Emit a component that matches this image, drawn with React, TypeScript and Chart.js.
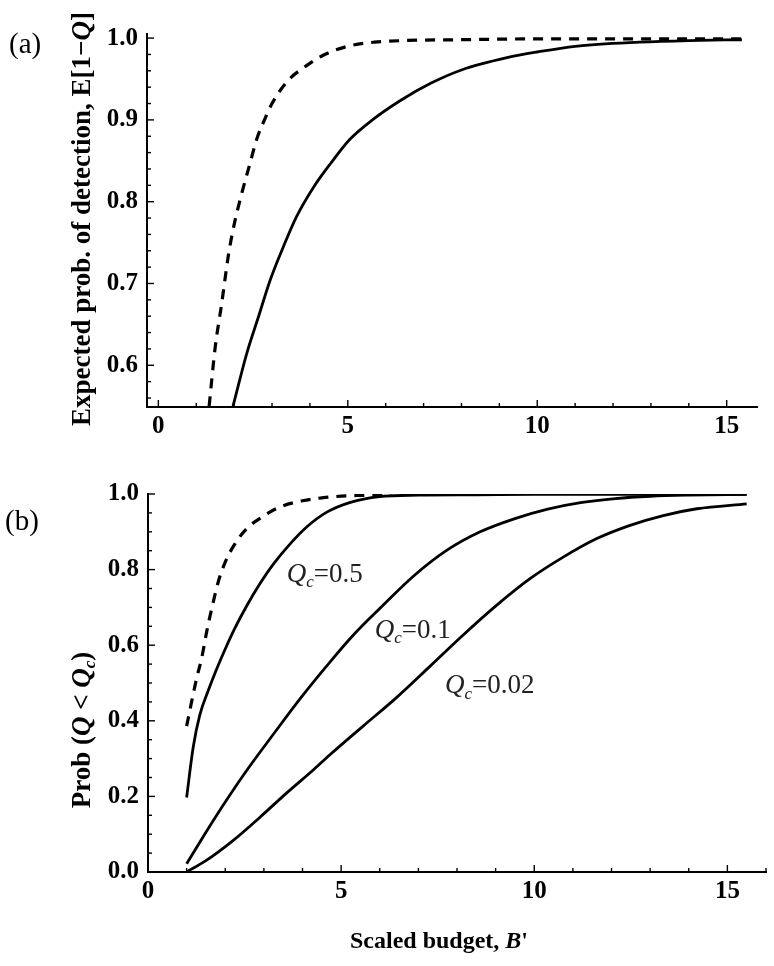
import React, { useEffect, useRef } from 'react';
import { Chart, registerables } from 'chart.js';

Chart.register(...registerables);

// ---------------- Data: panel (a) ----------------
const aDashedB = [1.34, 1.5, 1.67, 1.85, 2.0, 2.2, 2.42, 2.6, 2.8, 3.0, 3.4, 3.9, 4.35, 5.0, 5.7, 6.5, 7.9, 10.0, 12.0, 15.4];
const aDashedP = [0.55, 0.622, 0.675, 0.735, 0.772, 0.81, 0.847, 0.877, 0.9, 0.92, 0.947, 0.966, 0.979, 0.99, 0.995, 0.997, 0.998, 0.999, 0.999, 0.999];
const aSolidB = [1.97, 2.33, 2.64, 2.95, 3.3, 3.65, 4.1, 4.55, 5.05, 5.65, 6.4, 7.2, 8.0, 9.2, 10.0, 11.0, 12.7, 14.0, 15.4];
const aSolidP = [0.55, 0.614, 0.659, 0.704, 0.745, 0.782, 0.818, 0.847, 0.876, 0.9, 0.924, 0.945, 0.961, 0.976, 0.983, 0.99, 0.995, 0.997, 0.998];
const aXTicks = [0, 5, 10, 15];
const aYTicks = [0.6, 0.7, 0.8, 0.9, 1.0];

// ---------------- Data: panel (b) ----------------
const bDashedB = [1.0, 1.26, 1.39, 1.52, 1.65, 1.82, 2.0, 2.25, 2.55, 2.95, 3.4, 4.0, 4.6, 5.4, 6.3];
const bDashedP = [0.386, 0.513, 0.566, 0.636, 0.697, 0.768, 0.82, 0.868, 0.908, 0.939, 0.965, 0.982, 0.991, 0.996, 0.997];
const bQ05B = [1.0, 1.17, 1.34, 1.56, 1.77, 2.0, 2.25, 2.55, 2.9, 3.25, 3.68, 4.1, 4.63, 5.24, 6.0, 7.0, 8.5, 10.0, 12.0, 15.5];
const bQ05P = [0.197, 0.33, 0.415, 0.48, 0.535, 0.59, 0.645, 0.703, 0.763, 0.815, 0.868, 0.912, 0.952, 0.978, 0.993, 0.997, 0.998, 0.999, 0.999, 0.999];
const bQ01B = [1.0, 1.5, 2.0, 2.6, 3.25, 3.95, 4.65, 5.3, 6.0, 6.9, 7.75, 8.6, 9.5, 10.35, 11.2, 12.1, 13.0, 14.0, 15.5];
const bQ01P = [0.022, 0.105, 0.185, 0.275, 0.365, 0.46, 0.548, 0.625, 0.697, 0.785, 0.852, 0.9, 0.935, 0.96, 0.977, 0.988, 0.994, 0.997, 0.999];
const bQ002B = [1.0, 1.5, 2.2, 2.9, 3.6, 4.3, 4.71, 5.57, 6.44, 7.3, 8.16, 9.03, 9.89, 10.75, 11.62, 12.48, 13.34, 14.21, 15.5];
const bQ002P = [0.0, 0.03, 0.083, 0.145, 0.21, 0.272, 0.31, 0.386, 0.462, 0.544, 0.627, 0.706, 0.776, 0.833, 0.882, 0.917, 0.943, 0.961, 0.974];
const bXTicks = [0, 5, 10, 15];
const bYTicks = [0.0, 0.2, 0.4, 0.6, 0.8, 1.0];
const qcValues = ['0.5', '0.1', '0.02'];

// ---------------- helpers ----------------
const FONT = "'Liberation Serif', 'Times New Roman', serif";

const pts = (xs: number[], ys: number[]) => xs.map((x, i) => ({ x, y: ys[i] }));

function range(a: number, b: number, step: number): number[] {
  const out: number[] = [];
  const n = Math.round((b - a) / step);
  for (let i = 0; i <= n; i++) out.push(+(a + i * step).toFixed(4));
  return out;
}

type Part = { t: string; s: string; sub?: boolean };

function drawParts(
  ctx: CanvasRenderingContext2D,
  parts: Part[],
  size: number,
  x: number,
  y: number,
  align: 'left' | 'center',
  rotate = 0,
  vshift = 0,
  color = '#000'
) {
  ctx.save();
  ctx.translate(x, y);
  if (rotate) ctx.rotate(rotate);
  ctx.textBaseline = 'alphabetic';
  ctx.textAlign = 'left';
  ctx.fillStyle = color;
  const fontFor = (p: Part) =>
    `${p.s.includes('i') ? 'italic ' : ''}${p.s.includes('b') ? 'bold ' : ''}${p.sub ? Math.round(size * 0.62) : size}px ${FONT}`;
  const widths = parts.map((p) => {
    ctx.font = fontFor(p);
    return ctx.measureText(p.t).width;
  });
  const total = widths.reduce((a, b) => a + b, 0);
  let cx = align === 'center' ? -total / 2 : 0;
  parts.forEach((p, i) => {
    ctx.font = fontFor(p);
    ctx.fillText(p.t, cx, vshift + (p.sub ? size * 0.2 : 0));
    cx += widths[i];
  });
  ctx.restore();
}

const inTicksPlugin = {
  id: 'inTicks',
  afterDatasetsDraw(chart: any, _args: any, opts: any) {
    const { ctx, chartArea } = chart;
    const xs = chart.scales.x;
    const ys = chart.scales.y;
    const isMajor = (v: number, list: number[]) => list.some((m) => Math.abs(m - v) < 1e-6);
    ctx.save();
    ctx.strokeStyle = '#000';
    ctx.lineWidth = 1.4;
    for (const v of opts.xMinor) {
      const px = xs.getPixelForValue(v);
      const len = isMajor(v, opts.xMajor) ? 7 : 4;
      ctx.beginPath();
      ctx.moveTo(px, chartArea.bottom);
      ctx.lineTo(px, chartArea.bottom - len);
      ctx.stroke();
    }
    for (const v of opts.yMinor) {
      const py = ys.getPixelForValue(v);
      const len = isMajor(v, opts.yMajor) ? 7 : 4;
      ctx.beginPath();
      ctx.moveTo(chartArea.left, py);
      ctx.lineTo(chartArea.left + len, py);
      ctx.stroke();
    }
    ctx.restore();
  },
};

const tickFont = { family: FONT, size: 25, weight: 'bold' as const };

function baseScales(
  xmin: number, xmax: number, xTicks: number[],
  ymin: number, ymax: number, yTicks: number[]
) {
  return {
    x: {
      type: 'linear' as const,
      min: xmin,
      max: xmax,
      afterBuildTicks: (s: any) => { s.ticks = xTicks.map((value) => ({ value })); },
      afterFit: (s: any) => { s.height = 40; },
      grid: { display: false, drawTicks: false },
      border: { display: true, color: '#000', width: 2 },
      ticks: { color: '#000', font: tickFont, padding: 5, maxRotation: 0, callback: (v: any) => String(v) },
    },
    y: {
      type: 'linear' as const,
      min: ymin,
      max: ymax,
      afterBuildTicks: (s: any) => { s.ticks = yTicks.map((value) => ({ value })); },
      afterFit: (s: any) => { s.width = 80; },
      grid: { display: false, drawTicks: false },
      border: { display: true, color: '#000', width: 2 },
      ticks: { color: '#000', font: tickFont, padding: 9, callback: (v: any) => Number(v).toFixed(1) },
    },
  };
}

const lineDs = (data: any[], dashed: boolean) => ({
  data,
  showLine: true,
  borderColor: '#000',
  borderWidth: dashed ? 3.2 : 2.8,
  borderDash: dashed ? [10, 8] : [],
  pointRadius: 0,
  cubicInterpolationMode: 'monotone' as const,
  fill: false,
});

export default function App() {
  const topRef = useRef<HTMLCanvasElement | null>(null);
  const botRef = useRef<HTMLCanvasElement | null>(null);

  useEffect(() => {
    if (!topRef.current || !botRef.current) return;

    const textA = {
      id: 'textA',
      afterDraw(chart: any) {
        const ctx = chart.ctx as CanvasRenderingContext2D;
        drawParts(ctx, [{ t: '(a)', s: 'r' }], 29, 9, 53, 'left');
        drawParts(
          ctx,
          [
            { t: 'Expected prob. of detection, E[1\u2212', s: 'b' },
            { t: 'Q', s: 'bi' },
            { t: ']', s: 'b' },
          ],
          27, 81, 219, 'center', -Math.PI / 2, 9
        );
      },
    };

    const qcAnchors = [
      { b: 3.59, p: 0.768 },
      { b: 5.87, p: 0.62 },
      { b: 7.69, p: 0.473 },
    ];

    const textB = {
      id: 'textB',
      afterDraw(chart: any) {
        const ctx = chart.ctx as CanvasRenderingContext2D;
        const xs = chart.scales.x;
        const ys = chart.scales.y;
        drawParts(ctx, [{ t: '(b)', s: 'r' }], 29, 5, 60, 'left');
        drawParts(
          ctx,
          [
            { t: 'Prob (', s: 'b' },
            { t: 'Q', s: 'bi' },
            { t: ' < ', s: 'b' },
            { t: 'Q', s: 'bi' },
            { t: 'c', s: 'bi', sub: true },
            { t: ')', s: 'b' },
          ],
          27, 81, 260, 'center', -Math.PI / 2, 9
        );
        drawParts(
          ctx,
          [
            { t: 'Scaled budget, ', s: 'b' },
            { t: 'B', s: 'bi' },
            { t: "'", s: 'b' },
          ],
          24, 439, 478, 'center'
        );
        qcValues.forEach((val, i) => {
          const a = qcAnchors[i];
          drawParts(
            ctx,
            [
              { t: 'Q', s: 'i' },
              { t: 'c', s: 'i', sub: true },
              { t: '=' + val, s: 'r' },
            ],
            27, xs.getPixelForValue(a.b), ys.getPixelForValue(a.p), 'left', 0, 0, '#222'
          );
        });
      },
    };

    const top = new Chart(topRef.current, {
      type: 'scatter',
      data: {
        datasets: [lineDs(pts(aDashedB, aDashedP), true), lineDs(pts(aSolidB, aSolidP), false)],
      },
      options: {
        animation: false,
        responsive: false,
        maintainAspectRatio: false,
        layout: { padding: { left: 67, right: 17, top: 34, bottom: 23 } },
        plugins: {
          legend: { display: false },
          tooltip: { enabled: false },
          inTicks: { xMinor: range(0, 15, 1), xMajor: aXTicks, yMinor: range(0.56, 1.0, 0.02), yMajor: aYTicks },
        } as any,
        scales: baseScales(-0.3, 15.8, aXTicks, 0.549, 1.005, aYTicks),
      },
      plugins: [inTicksPlugin, textA],
    });

    const bot = new Chart(botRef.current, {
      type: 'scatter',
      data: {
        datasets: [
          lineDs(pts(bDashedB, bDashedP), true),
          lineDs(pts(bQ05B, bQ05P), false),
          lineDs(pts(bQ01B, bQ01P), false),
          lineDs(pts(bQ002B, bQ002P), false),
        ],
      },
      options: {
        animation: false,
        responsive: false,
        maintainAspectRatio: false,
        layout: { padding: { left: 68, right: 8, top: 22, bottom: 54 } },
        plugins: {
          legend: { display: false },
          tooltip: { enabled: false },
          inTicks: { xMinor: range(0, 16, 1), xMajor: bXTicks, yMinor: range(0, 1.0, 0.05), yMajor: bYTicks },
        } as any,
        scales: baseScales(0, 16, bXTicks, 0, 1.0, bYTicks),
      },
      plugins: [inTicksPlugin, textB],
    });

    return () => {
      top.destroy();
      bot.destroy();
    };
  }, []);

  return (
    <div style={{ position: 'absolute', left: 0, top: 0, width: 774, height: 966, background: '#fff' }}>
      <canvas
        ref={topRef}
        width={774}
        height={470}
        style={{ position: 'absolute', left: 0, top: 0, width: 774, height: 470 }}
      />
      <canvas
        ref={botRef}
        width={774}
        height={496}
        style={{ position: 'absolute', left: 0, top: 470, width: 774, height: 496 }}
      />
    </div>
  );
}
